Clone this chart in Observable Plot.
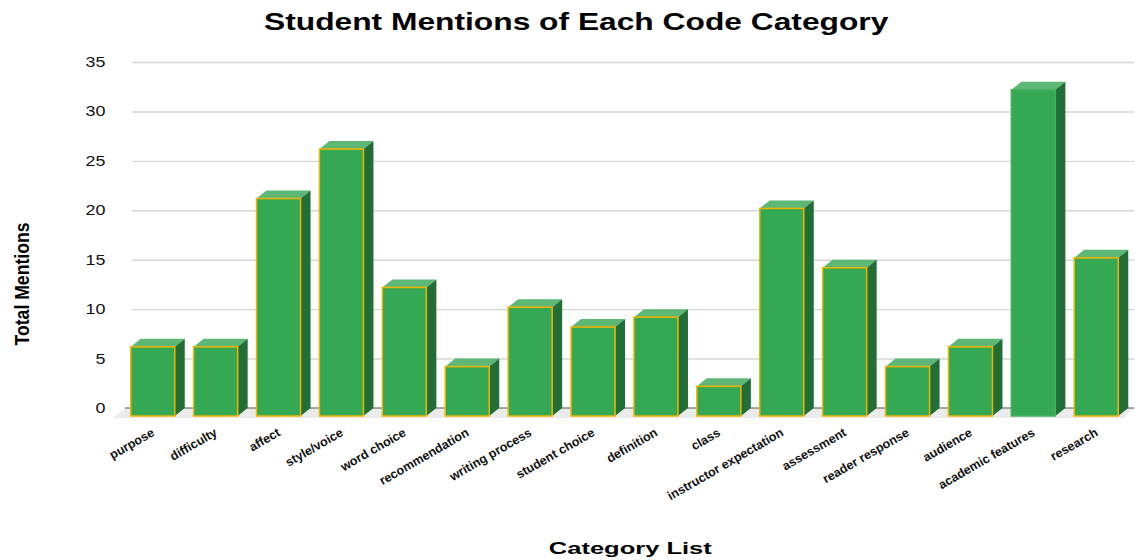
<!DOCTYPE html>
<html>
<head>
<meta charset="utf-8">
<script src="https://cdn.jsdelivr.net/npm/d3@7"></script>
<script src="https://cdn.jsdelivr.net/npm/@observablehq/plot@0.6"></script>
<style>
  html, body { margin: 0; padding: 0; background: #ffffff; }
  #wrap { position: relative; width: 1135px; height: 560px; overflow: hidden; font-family: "Liberation Sans", Arial, sans-serif; }
  #title { position: absolute; top: 8px; left: 0; width: 1152px; text-align: center; line-height: 28px; }
  #title span { display: inline-block; font-weight: bold; font-size: 23px; color: #000; transform: scaleX(1.38); transform-origin: center; }
  #chart { position: absolute; top: 45px; left: 0; }
  #xtitle { position: absolute; top: 538px; left: 0; width: 1260px; text-align: center; line-height: 22px; }
  #xtitle span { display: inline-block; font-weight: bold; font-size: 17px; color: #000; transform: scaleX(1.5); transform-origin: center; }
  #ytitle { position: absolute; top: 0; left: 0; }
</style>
</head>
<body>
<div id="wrap">
  <div id="title"><span>Student Mentions of Each Code Category</span></div>
  <div id="chart"></div>
  <svg id="ytitle" width="50" height="560">
    <text x="0" y="0" transform="translate(29,284) rotate(-90)" text-anchor="middle" font-family="Liberation Sans, Arial, sans-serif" font-weight="bold" font-size="20" textLength="123" lengthAdjust="spacingAndGlyphs" fill="#000">Total Mentions</text>
  </svg>
  <div id="xtitle"><span>Category List</span></div>
</div>
<script>
const categories = ["purpose", "difficulty", "affect", "style/voice", "word choice", "recommendation",
  "writing process", "student choice", "definition", "class", "instructor expectation", "assessment",
  "reader response", "audience", "academic features", "research"];
const mentions = [7, 7, 22, 27, 13, 5, 11, 9, 10, 3, 21, 15, 5, 7, 33, 16];
const yTicks = [0, 5, 10, 15, 20, 25, 30, 35];
const highlighted = "academic features";

const data = categories.map((c, i) => ({category: c, value: mentions[i]}));

const DEPTH_X = 10, DEPTH_Y = 8;

const plot = Plot.plot({
  width: 1135,
  height: 490,
  marginLeft: 115,
  marginRight: 1,
  marginTop: 17,
  marginBottom: 127,
  style: {fontFamily: "Liberation Sans, Arial, sans-serif", color: "#111", background: "transparent"},
  x: {domain: categories, paddingInner: 0.3, paddingOuter: 0.25, round: false, label: null},
  y: {domain: [0, 35], label: null},
  marks: [
    Plot.ruleY(yTicks.slice(1), {stroke: "#d6d6d6", strokeWidth: 1.4, insetLeft: 17}),
    Plot.axisY(yTicks, {tickSize: 0, tickPadding: 10, fontSize: 14, label: null}),
    Plot.axisX({tickSize: 0, tickPadding: 23, tickRotate: -30, fontSize: 12.5, fontWeight: "bold", label: null}),
    Plot.barY(data, {
      x: "category", y: "value", fill: "#34a853",
      stroke: d => d.category === highlighted ? "#45b262" : "#f4b400",
      strokeWidth: 1.5, dy: DEPTH_Y
    })
  ]
});

document.getElementById("chart").appendChild(plot);

const svg = d3.select(plot);
const xs = plot.scale("x");
const ys = plot.scale("y");
const y0 = ys.apply(0);
const xr = xs.range;

// widen y tick labels like the reference's stretched digits (scale about the right-anchored origin)
svg.selectAll("g[aria-label='y-axis tick label'] text").each(function() {
  const t = this.getAttribute("transform");
  if (t && t.indexOf("translate") >= 0) this.setAttribute("transform", t + " scale(1.28,1)");
});

// floor
const floorG = svg.insert("g", "g[aria-label='bar']");
floorG.append("polygon")
  .attr("points", [
    [xr[0] + 10, y0], [xr[1], y0], [xr[1] - DEPTH_X, y0 + DEPTH_Y + 2], [xr[0] - 2, y0 + DEPTH_Y + 2]
  ].map(p => p.join(",")).join(" "))
  .attr("fill", "#ebebeb");
floorG.append("line")
  .attr("x1", xr[0] + 10).attr("x2", xr[1]).attr("y1", y0).attr("y2", y0)
  .attr("stroke", "#555").attr("stroke-width", 1.2);

// top and side faces of each bar
svg.selectAll("g[aria-label='bar'] rect").each(function() {
  const r = d3.select(this);
  const x = +r.attr("x"), y = +r.attr("y"), w = +r.attr("width"), h = +r.attr("height");
  const parent = this.parentNode;
  const top = document.createElementNS("http://www.w3.org/2000/svg", "polygon");
  top.setAttribute("points", [[x, y], [x + w, y], [x + w + DEPTH_X, y - DEPTH_Y], [x + DEPTH_X, y - DEPTH_Y]].map(p => p.join(",")).join(" "));
  top.setAttribute("fill", "#5cb874");
  top.setAttribute("stroke", "none");
  const side = document.createElementNS("http://www.w3.org/2000/svg", "polygon");
  side.setAttribute("points", [[x + w, y], [x + w + DEPTH_X, y - DEPTH_Y], [x + w + DEPTH_X, y + h - DEPTH_Y], [x + w, y + h]].map(p => p.join(",")).join(" "));
  side.setAttribute("fill", "#226e37");
  side.setAttribute("stroke", "none");
  parent.insertBefore(top, this);
  parent.insertBefore(side, this);
});
</script>
</body>
</html>
